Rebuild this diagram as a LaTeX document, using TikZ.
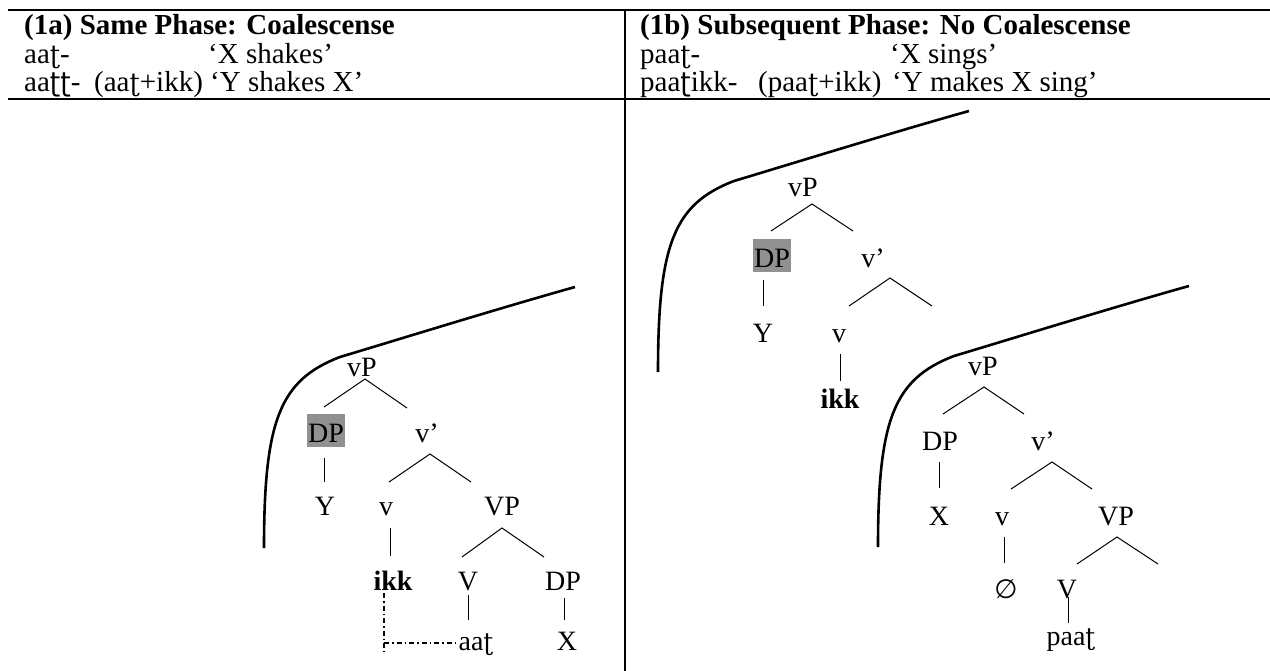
\documentclass[tikz,border=0pt]{standalone}
\usepackage{fontspec}
\setmainfont{Liberation Serif}
\newfontfamily\ipaserif[Scale=0.88]{DejaVu Serif}
\newfontfamily\ipasans[Scale=0.92]{DejaVu Sans}
\newfontfamily\symfont[Scale=0.95]{DejaVu Sans}
\newcommand\rt{{\ipaserif ʈ}}
\newcommand\rth{{\ipasans ʈ}}
\newcommand\treefont{\fontsize{28bp}{32bp}\selectfont}
\newcommand\headfont{\fontsize{29bp}{32bp}\selectfont}
\definecolor{hlgray}{RGB}{145,145,145}
\newcommand\fork[3]{\draw[branch] (#2) -- (#1) -- (#3);}

\begin{document}
\begin{tikzpicture}[x=1bp, y=-1bp,
  tree/.style={font=\treefont, inner sep=0pt, anchor=base},
  boldtree/.style={font=\treefont\bfseries, inner sep=0pt, anchor=base},
  hlbox/.style={fill=hlgray, inner xsep=1bp, inner ysep=0pt,
                text height=28bp, text depth=5bp},
  head/.style={font=\headfont, inner sep=0pt, anchor=base west},
  headbold/.style={font=\headfont\bfseries, inner sep=0pt, anchor=base west},
  rule/.style={line width=2bp},
  branch/.style={line width=1bp},
  phase/.style={line width=2.6bp},
  link/.style={line width=1.2bp, dash pattern=on 5bp off 3bp on 1.5bp off 3bp},
  pics/edge/.style={code={
    \draw[phase] (0,0) .. controls (0,-128) and (16,-168) .. (76,-191)
                     .. controls (136,-209) and (236,-240) .. (311,-261);}}
]
\useasboundingbox (0,0) rectangle (1270,671);

% table rules
\coordinate (tl) at (8,10);   \coordinate (tr) at (1270,10);
\coordinate (bl) at (8,99);   \coordinate (br) at (1270,99);
\coordinate (dt) at (625,10); \coordinate (db) at (625,671);
\draw[line width=2.6bp] (tl) -- (tr);
\draw[rule] (bl) -- (br);
\draw[rule] (dt) -- (db);

% header, left column
\node[headbold] (ha0) at (24,35) {(1a) Same Phase: Coalescense};
\node[head] (ha1) at (24,64) {aa\rt-};
\node[head] (ha2) at (208,64) {‘X shakes’};
\node[head] (ha3) at (24,92) {aa\rth\rth-};
\node[head] (ha4) at (94,92) {(aa\rt+ikk)};
\node[head] (ha5) at (210,92) {‘Y shakes X’};

% header, right column
\node[headbold] (hb0) at (640,35) {(1b) Subsequent Phase: No Coalescense};
\node[head] (hb1) at (640,64) {paa\rt-};
\node[head] (hb2) at (890,64) {‘X sings’};
\node[head] (hb3) at (640,92) {paa\rth ikk-};
\node[head] (hb4) at (758,92) {(paa\rt+ikk)};
\node[head] (hb5) at (892,92) {‘Y makes X sing’};

% phase boundaries
\pic at (264,548) {edge};
\pic at (658,372) {edge};
\pic at (878,547) {edge};

% ---------- tree (1a) ----------
\node[tree] (LvP) at (362,376) {vP};
\node[tree,hlbox] (LDP) at (326,442) {DP};
\node[tree] (Lvb) at (427,442) {v’};
\node[tree] (LY) at (325,515) {Y};
\node[tree] (Lv) at (386,515) {v};
\node[tree] (LVP) at (502,515) {VP};
\node[boldtree] (Likk) at (393,590) {ikk};
\node[tree] (LV) at (468,590) {V};
\node[tree] (LDPb) at (563,590) {DP};
\node[tree] (Laat) at (476,650) {aa\rt};
\node[tree] (LX) at (567,650) {X};

\coordinate (La1) at (365,379); \coordinate (La1l) at (324,407); \coordinate (La1r) at (407,408);
\coordinate (La2) at (430,454); \coordinate (La2l) at (389,482); \coordinate (La2r) at (471,482);
\coordinate (La3) at (502,528); \coordinate (La3l) at (462,557); \coordinate (La3r) at (544,557);
\fork{La1}{La1l}{La1r}
\fork{La2}{La2l}{La2r}
\fork{La3}{La3l}{La3r}
\coordinate (Ly1) at (324,458); \coordinate (Ly2) at (324,482);
\coordinate (Lk1) at (390,528); \coordinate (Lk2) at (390,556);
\coordinate (Lt1) at (468,595); \coordinate (Lt2) at (468,620);
\coordinate (Lx1) at (564,598); \coordinate (Lx2) at (564,620);
\draw[branch] (Ly1) -- (Ly2);
\draw[branch] (Lk1) -- (Lk2);
\draw[branch] (Lt1) -- (Lt2);
\draw[branch] (Lx1) -- (Lx2);
\coordinate (Ld1) at (384,593); \coordinate (Ld2) at (384,652);
\coordinate (Ld3) at (384,643); \coordinate (Ld4) at (458,643);
\draw[link] (Ld1) -- (Ld2);
\draw[link] (Ld3) -- (Ld4);

% ---------- tree (1b), upper ----------
\node[tree] (UvP) at (803,197) {vP};
\node[tree,hlbox] (UDP) at (772,267) {DP};
\node[tree] (Uvb) at (873,267) {v’};
\node[tree] (UY) at (763,342) {Y};
\node[tree] (Uv) at (839,342) {v};
\node[boldtree] (Uikk) at (840,408) {ikk};

\coordinate (Ua1) at (812,204); \coordinate (Ua1l) at (771,231); \coordinate (Ua1r) at (853,231);
\coordinate (Ua2) at (890,278); \coordinate (Ua2l) at (849,306); \coordinate (Ua2r) at (932,306);
\fork{Ua1}{Ua1l}{Ua1r}
\fork{Ua2}{Ua2l}{Ua2r}
\coordinate (Uy1) at (763,280); \coordinate (Uy2) at (763,306);
\coordinate (Uk1) at (840,354); \coordinate (Uk2) at (840,381);
\draw[branch] (Uy1) -- (Uy2);
\draw[branch] (Uk1) -- (Uk2);

% ---------- tree (1b), lower ----------
\node[tree] (BvP) at (983,375) {vP};
\node[tree] (BDP) at (940,450) {DP};
\node[tree] (Bvb) at (1043,450) {v’};
\node[tree] (BX) at (939,525) {X};
\node[tree] (Bv) at (1002,525) {v};
\node[tree] (BVP) at (1116,525) {VP};
\node[tree] (Bnull) at (1006,598) {{\symfont ∅}};
\node[tree] (BV) at (1067,598) {V};
\node[tree] (Bpaat) at (1071,645) {paa\rt};

\coordinate (Ba1) at (984,387);  \coordinate (Ba1l) at (943,414);  \coordinate (Ba1r) at (1024,414);
\coordinate (Ba2) at (1052,462); \coordinate (Ba2l) at (1011,489); \coordinate (Ba2r) at (1092,489);
\coordinate (Ba3) at (1117,537); \coordinate (Ba3l) at (1077,564); \coordinate (Ba3r) at (1158,564);
\fork{Ba1}{Ba1l}{Ba1r}
\fork{Ba2}{Ba2l}{Ba2r}
\fork{Ba3}{Ba3l}{Ba3r}
\coordinate (Bx1) at (939,462);  \coordinate (Bx2) at (939,488);
\coordinate (Bk1) at (1004,537); \coordinate (Bk2) at (1004,563);
\coordinate (Bt1) at (1068,597); \coordinate (Bt2) at (1068,623);
\draw[branch] (Bx1) -- (Bx2);
\draw[branch] (Bk1) -- (Bk2);
\draw[branch] (Bt1) -- (Bt2);
\end{tikzpicture}
\end{document}
